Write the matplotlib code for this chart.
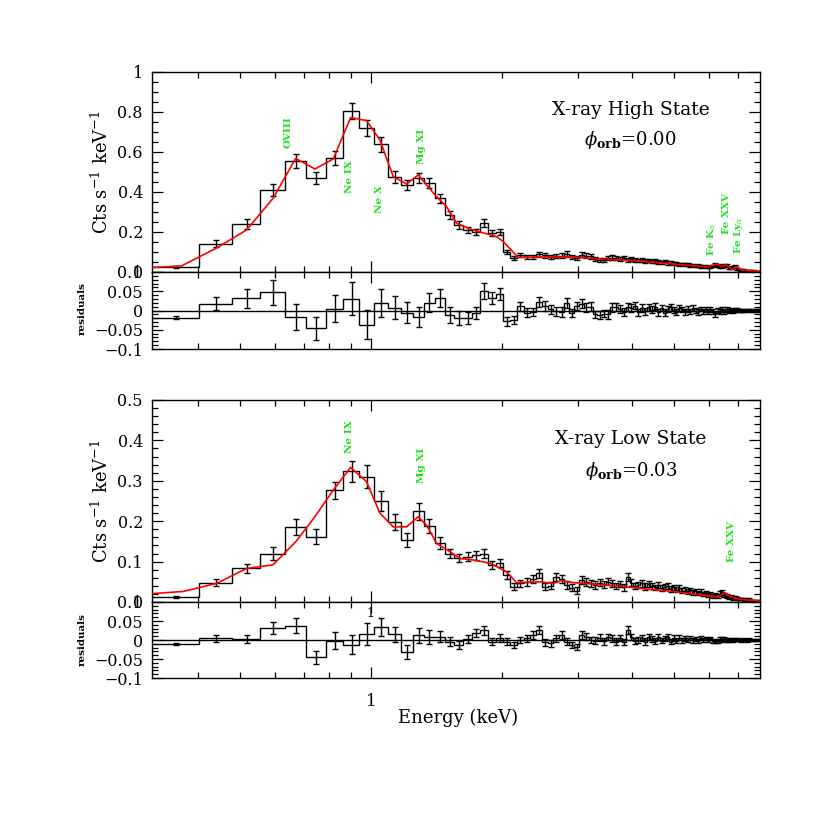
import matplotlib
matplotlib.use("Agg")
import matplotlib.pyplot as plt
import matplotlib.ticker as ticker
import numpy as np

plt.rcParams["font.family"] = ["DejaVu Serif"]
plt.rcParams["mathtext.fontset"] = "dejavuserif"

# energy grid (keV), shared by both spectra
EMIN, EMAX = 0.313, 7.88
edges = [0.31,
         0.402, 0.479, 0.556, 0.633, 0.710, 0.787, 0.864, 0.941, 1.018, 1.095,
         1.172, 1.249, 1.326, 1.403, 1.480, 1.557, 1.634, 1.711, 1.788, 1.865,
         1.942, 2.019, 2.096, 2.173, 2.250, 2.327, 2.404, 2.481, 2.558, 2.635,
         2.712, 2.789, 2.866, 2.943, 3.020, 3.097, 3.174, 3.251, 3.328, 3.405,
         3.482, 3.559, 3.636, 3.713, 3.790, 3.867, 3.944, 4.021, 4.098, 4.175,
         4.252, 4.329, 4.406, 4.483, 4.560, 4.637, 4.714, 4.791, 4.868, 4.945,
         5.022, 5.099, 5.176, 5.253, 5.330, 5.407, 5.484, 5.561, 5.638, 5.715,
         5.792, 5.869, 5.946, 6.023, 6.100, 6.177, 6.254, 6.331, 6.408, 6.485,
         6.562, 6.639, 6.716, 6.793, 6.870, 6.947, 7.024, 7.101, 7.178, 7.255,
         7.332, 7.409, 7.486, 7.563, 7.640, 7.717, 7.794, 7.871]

# ---- X-ray high state (phi = 0.00)
high_counts = [
    0.024, 0.142, 0.242, 0.410, 0.555, 0.468, 0.572, 0.805, 0.720, 0.638,
    0.475, 0.435, 0.470, 0.443, 0.368, 0.283, 0.235, 0.210, 0.200, 0.243,
    0.193, 0.200, 0.100, 0.068, 0.085, 0.075, 0.074, 0.088, 0.083, 0.076,
    0.080, 0.082, 0.090, 0.075, 0.070, 0.087, 0.082, 0.078, 0.063, 0.060,
    0.062, 0.070, 0.072, 0.068, 0.064, 0.070, 0.062, 0.066, 0.060, 0.058,
    0.062, 0.055, 0.058, 0.052, 0.055, 0.050, 0.048, 0.052, 0.045, 0.047,
    0.042, 0.044, 0.038, 0.040, 0.036, 0.038, 0.033, 0.035, 0.030, 0.032,
    0.028, 0.030, 0.026, 0.028, 0.024, 0.030, 0.038, 0.034, 0.028, 0.026,
    0.033, 0.035, 0.022, 0.018, 0.024, 0.028, 0.016, 0.012, 0.011, 0.009,
    0.009, 0.007, 0.006, 0.006, 0.005, 0.004, 0.003, 0.003]
high_err = [
    0.004, 0.017, 0.025, 0.032, 0.033, 0.030, 0.035, 0.042, 0.038, 0.037,
    0.030, 0.027, 0.026, 0.025, 0.024, 0.020, 0.018, 0.016, 0.015, 0.020,
    0.015, 0.016, 0.012, 0.010, 0.012, 0.012, 0.011, 0.013, 0.012, 0.011,
    0.012, 0.012, 0.013, 0.011, 0.011, 0.012, 0.012, 0.011, 0.010, 0.010,
    0.010, 0.011, 0.011, 0.010, 0.010, 0.010, 0.010, 0.010, 0.009, 0.009,
    0.010, 0.009, 0.009, 0.009, 0.009, 0.009, 0.008, 0.009, 0.008, 0.008,
    0.008, 0.008, 0.008, 0.007, 0.007, 0.007, 0.007, 0.007, 0.006, 0.007,
    0.006, 0.006, 0.006, 0.006, 0.006, 0.006, 0.007, 0.007, 0.006, 0.006,
    0.006, 0.006, 0.005, 0.005, 0.005, 0.005, 0.004, 0.004, 0.004, 0.004,
    0.003, 0.003, 0.003, 0.003, 0.003, 0.003, 0.003, 0.003]
high_resid = [
    -0.019, 0.018, 0.032, 0.047, -0.017, -0.046, 0.005, 0.031, -0.037, 0.020,
    0.007, -0.006, -0.017, 0.020, 0.033, -0.012, -0.019, -0.019, -0.006, 0.051,
    0.033, 0.042, -0.028, -0.024, 0.011, -0.006, -0.004, 0.022, 0.012, 0.003,
    -0.002, -0.004, 0.020, -0.006, 0.012, 0.018, 0.008, 0.010, -0.010, -0.012,
    -0.008, -0.010, 0.008, 0.010, 0.004, -0.003, 0.010, 0.006, 0.012, -0.004,
    0.006, -0.002, 0.008, 0.002, 0.010, -0.004, 0.006, -0.006, 0.004, 0.008,
    0.002, -0.003, 0.006, 0.002, -0.004, 0.004, -0.002, 0.006, 0.000, -0.004,
    0.004, -0.002, 0.003, -0.003, 0.002, -0.002, -0.010, 0.000, -0.003, 0.002,
    -0.002, 0.003, -0.001, 0.002, -0.002, 0.001, 0.002, -0.001, 0.001, 0.000,
    -0.001, 0.001, 0.000, 0.001, -0.001, 0.000, 0.001, 0.000]
high_model_e = [0.315, 0.366, 0.441, 0.517, 0.595, 0.671, 0.743, 0.819, 0.898,
                0.977, 1.049, 1.126, 1.209, 1.285, 1.344, 1.417, 1.494, 1.576,
                1.72, 1.949, 2.018, 2.185, 2.452, 2.92, 3.49, 4.17, 4.97, 5.94,
                6.26, 6.43, 6.60, 6.78, 6.96, 7.14, 7.88]
high_model = [0.023, 0.030, 0.120, 0.210, 0.368, 0.568, 0.515, 0.565, 0.772,
              0.757, 0.660, 0.477, 0.440, 0.485, 0.435, 0.377, 0.327, 0.243,
              0.210, 0.177, 0.152, 0.073, 0.075, 0.075, 0.063, 0.055, 0.040,
              0.025, 0.040, 0.027, 0.035, 0.013, 0.027, 0.010, 0.002]

# ---- X-ray low state (phi = 0.03)
low_counts = [
    0.013, 0.048, 0.083, 0.120, 0.186, 0.162, 0.276, 0.323, 0.310, 0.250,
    0.197, 0.153, 0.224, 0.188, 0.147, 0.120, 0.108, 0.112, 0.116, 0.120,
    0.092, 0.096, 0.067, 0.038, 0.046, 0.050, 0.058, 0.071, 0.038, 0.040,
    0.062, 0.058, 0.042, 0.035, 0.028, 0.054, 0.050, 0.046, 0.042, 0.048,
    0.044, 0.050, 0.046, 0.040, 0.044, 0.036, 0.062, 0.048, 0.040, 0.042,
    0.046, 0.038, 0.044, 0.040, 0.036, 0.042, 0.034, 0.038, 0.040, 0.032,
    0.036, 0.030, 0.034, 0.028, 0.030, 0.026, 0.029, 0.024, 0.026, 0.022,
    0.025, 0.020, 0.022, 0.018, 0.020, 0.016, 0.018, 0.015, 0.020, 0.024,
    0.018, 0.014, 0.012, 0.013, 0.010, 0.011, 0.009, 0.008, 0.007, 0.008,
    0.006, 0.005, 0.006, 0.004, 0.004, 0.003, 0.003, 0.002]
low_err = [
    0.003, 0.008, 0.010, 0.016, 0.020, 0.018, 0.022, 0.025, 0.028, 0.024,
    0.020, 0.018, 0.020, 0.018, 0.015, 0.012, 0.010, 0.011, 0.011, 0.012,
    0.010, 0.010, 0.009, 0.008, 0.009, 0.010, 0.010, 0.011, 0.009, 0.009,
    0.010, 0.010, 0.009, 0.009, 0.008, 0.010, 0.010, 0.009, 0.009, 0.009,
    0.009, 0.009, 0.009, 0.008, 0.008, 0.008, 0.010, 0.009, 0.008, 0.008,
    0.008, 0.008, 0.008, 0.008, 0.007, 0.008, 0.007, 0.007, 0.007, 0.007,
    0.007, 0.006, 0.007, 0.006, 0.006, 0.006, 0.006, 0.006, 0.006, 0.005,
    0.006, 0.005, 0.005, 0.005, 0.005, 0.005, 0.005, 0.005, 0.006, 0.006,
    0.005, 0.005, 0.004, 0.004, 0.004, 0.004, 0.004, 0.003, 0.003, 0.003,
    0.003, 0.003, 0.003, 0.002, 0.002, 0.002, 0.002, 0.002]
low_resid = [
    -0.011, 0.004, 0.003, 0.031, 0.038, -0.046, -0.002, -0.012, 0.016, 0.035,
    0.015, -0.032, 0.012, 0.008, 0.009, -0.004, -0.013, 0.002, 0.018, 0.026,
    -0.004, 0.006, -0.004, -0.013, 0.000, 0.004, 0.013, 0.026, -0.006, -0.009,
    0.004, 0.013, -0.004, -0.013, -0.018, 0.013, 0.009, 0.000, -0.002, 0.006,
    -0.003, 0.008, 0.004, -0.004, 0.005, -0.006, 0.026, 0.008, -0.003, 0.000,
    0.006, -0.004, 0.007, 0.003, -0.003, 0.008, -0.002, 0.004, 0.009, -0.004,
    0.005, -0.002, 0.006, -0.001, 0.004, 0.000, 0.005, -0.001, 0.003, -0.002,
    0.005, 0.000, 0.004, 0.000, 0.004, -0.002, -0.004, -0.003, 0.003, 0.002,
    0.003, 0.001, -0.002, 0.002, -0.001, 0.002, 0.001, 0.000, -0.001, 0.002,
    0.000, -0.001, 0.001, 0.000, 0.000, -0.001, 0.001, 0.000]
low_model_e = [0.315, 0.369, 0.441, 0.517, 0.595, 0.671, 0.743, 0.819, 0.898,
               0.977, 1.049, 1.126, 1.209, 1.285, 1.344, 1.417, 1.494, 1.603,
               1.72, 1.88, 2.054, 2.166, 2.452, 2.63, 2.75, 2.92, 3.49, 4.17,
               4.97, 5.94, 6.30, 6.54, 6.78, 7.08, 7.88]
low_model = [0.021, 0.026, 0.046, 0.083, 0.092, 0.149, 0.211, 0.277, 0.333,
             0.298, 0.220, 0.186, 0.186, 0.211, 0.190, 0.145, 0.130, 0.108,
             0.104, 0.096, 0.075, 0.048, 0.050, 0.046, 0.053, 0.048, 0.042,
             0.034, 0.026, 0.016, 0.012, 0.023, 0.012, 0.007, 0.002]

GREEN = "#22e022"


def tick_fmt(v, pos):
    v = round(v, 6)
    if abs(v) < 1e-9:
        v = 0.0
    return f"{v:g}".replace("-", "\u2212")


def style_axis(ax, ymaj, ymin, ylim, show_x=False):
    ax.set_xscale("log")
    ax.set_xlim(EMIN, EMAX)
    ax.set_ylim(*ylim)
    ax.xaxis.set_major_locator(ticker.LogLocator(base=10))
    ax.xaxis.set_minor_locator(ticker.LogLocator(base=10, subs=np.arange(2, 10)))
    ax.xaxis.set_minor_formatter(ticker.NullFormatter())
    if show_x:
        ax.xaxis.set_major_formatter(ticker.FuncFormatter(lambda v, p: f"{v:g}"))
    else:
        ax.xaxis.set_major_formatter(ticker.NullFormatter())
    ax.yaxis.set_major_locator(ticker.MultipleLocator(ymaj))
    ax.yaxis.set_minor_locator(ticker.MultipleLocator(ymin))
    ax.yaxis.set_major_formatter(ticker.FuncFormatter(tick_fmt))
    ax.tick_params(which="both", direction="in", top=True, right=True, width=0.9)
    ax.tick_params(which="major", length=8)
    ax.tick_params(which="minor", length=4)
    ax.tick_params(axis="y", labelsize=11.5, pad=6.5)
    ax.tick_params(axis="x", labelsize=12, pad=11)
    for s in ax.spines.values():
        s.set_linewidth(1.0)


def draw_spectrum(ax_m, ax_r, counts, err, resid, model_e, model):
    e = np.array(edges)
    centers = 0.5 * (e[:-1] + e[1:])
    ax_m.stairs(counts, e, baseline=None, color="black", lw=1.0)
    ax_m.errorbar(centers, counts, yerr=err, fmt="none", ecolor="black",
                  elinewidth=1.0, capsize=2.5, capthick=1.0)
    ax_m.plot(model_e, model, color="red", lw=1.2, zorder=5)

    ax_r.axhline(0, color="black", lw=1.0)
    ax_r.stairs(resid, e, baseline=None, color="black", lw=1.0)
    ax_r.errorbar(centers, resid, yerr=err, fmt="none", ecolor="black",
                  elinewidth=1.0, capsize=2.5, capthick=1.0)


fig = plt.figure(figsize=(8.3, 8.3), dpi=100)
top_main = fig.add_axes([0.1831, 0.6723, 0.7325, 0.2410])
top_res = fig.add_axes([0.1831, 0.5795, 0.7325, 0.0928])
bot_main = fig.add_axes([0.1831, 0.2747, 0.7325, 0.2434])
bot_res = fig.add_axes([0.1831, 0.1831, 0.7325, 0.0916])

draw_spectrum(top_main, top_res, high_counts, high_err, high_resid, high_model_e, high_model)
draw_spectrum(bot_main, bot_res, low_counts, low_err, low_resid, low_model_e, low_model)

style_axis(top_main, 0.2, 0.05, (0, 1))
style_axis(top_res, 0.05, 0.01, (-0.1, 0.1))
style_axis(bot_main, 0.1, 0.02, (0, 0.5))
style_axis(bot_res, 0.05, 0.01, (-0.1, 0.1), show_x=True)

# state labels
top_main.text(0.7875, 0.81, "X-ray High State", transform=top_main.transAxes,
              ha="center", va="center", fontsize=13.5)
top_main.text(0.7875, 0.66, r"$\phi_{\mathbf{orb}}$=0.00", transform=top_main.transAxes,
              ha="center", va="center", fontsize=13)
bot_main.text(0.7875, 0.805, "X-ray Low State", transform=bot_main.transAxes,
              ha="center", va="center", fontsize=13.5)
bot_main.text(0.7875, 0.648, r"$\phi_{\mathbf{orb}}$=0.03", transform=bot_main.transAxes,
              ha="center", va="center", fontsize=13)

# line identifications
high_lines = [("OVIII", 0.645, 0.70), ("Ne IX", 0.891, 0.477), ("Ne X", 1.045, 0.365),
              ("Mg XI", 1.309, 0.627), (r"Fe K$_\alpha$", 6.10, 0.165),
              ("Fe XXV", 6.60, 0.29), (r"Fe Ly$_\alpha$", 7.02, 0.185)]
low_lines = [("Ne IX", 0.891, 0.409), ("Mg XI", 1.309, 0.339), ("Fe XXV", 6.78, 0.149)]
for txt, x, y in high_lines:
    top_main.text(x, y, txt, rotation=90, ha="center", va="center",
                  fontsize=7.5, fontweight="bold", color=GREEN)
for txt, x, y in low_lines:
    bot_main.text(x, y, txt, rotation=90, ha="center", va="center",
                  fontsize=7.5, fontweight="bold", color=GREEN)

# stray tick label seen in the lower residual panel
bot_res.text(1.0, 0.071, "1", ha="center", va="center", fontsize=9)

# axis labels
ylab = r"Cts s$^{-1}$ keV$^{-1}$"
fig.text(0.1225, 0.6723 + 0.2410 / 2, ylab, rotation=90, ha="center", va="center", fontsize=13)
fig.text(0.1225, 0.2747 + 0.2434 / 2, ylab, rotation=90, ha="center", va="center", fontsize=13)
fig.text(0.0996, 0.628, "residuals", rotation=90, ha="center", va="center",
         fontsize=7.5, fontweight="bold")
fig.text(0.0996, 0.229, "residuals", rotation=90, ha="center", va="center",
         fontsize=7.5, fontweight="bold")
fig.text(0.5518, 0.1353, "Energy (keV)", ha="center", va="center", fontsize=13)

fig.savefig("out.png", dpi=100)
